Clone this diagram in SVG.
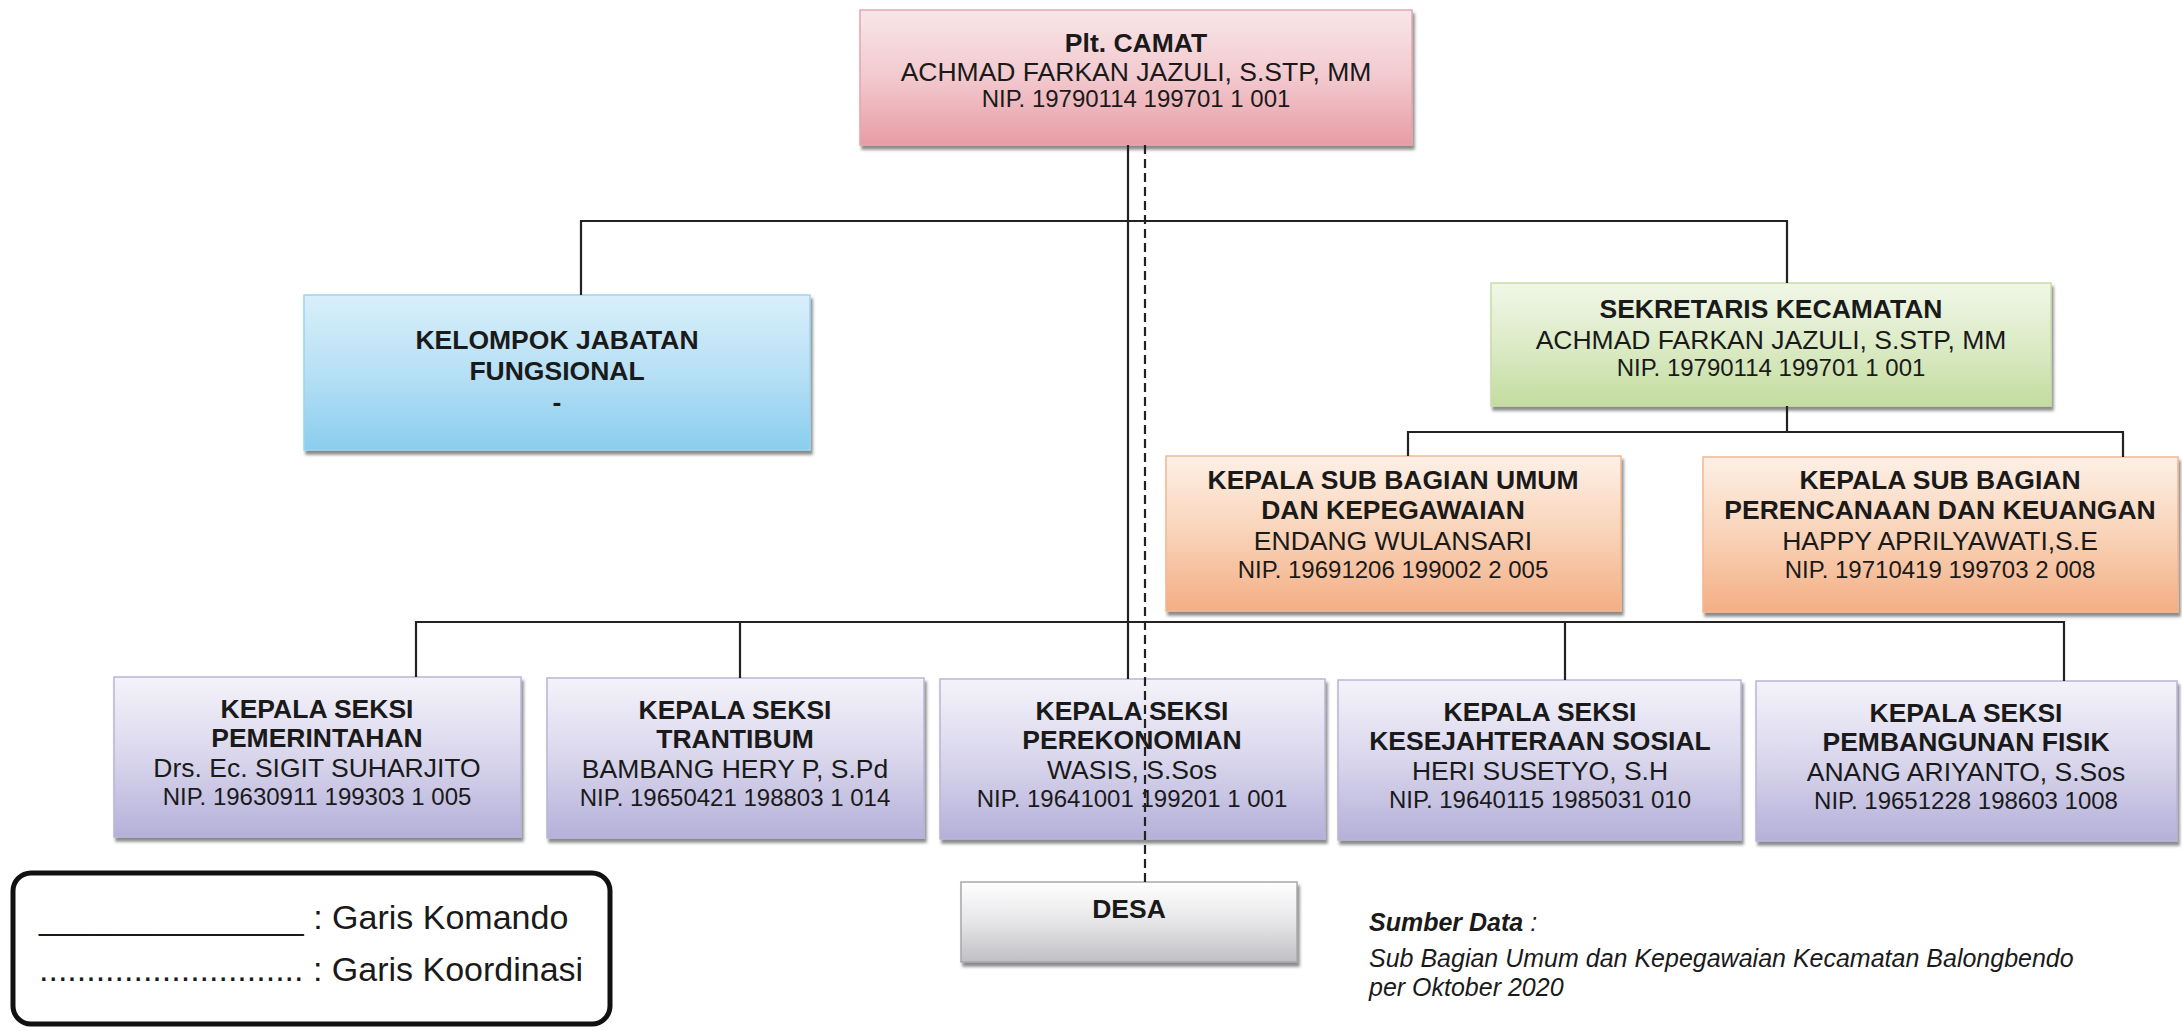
<svg xmlns="http://www.w3.org/2000/svg" width="2182" height="1031" viewBox="0 0 2182 1031">
<defs>
<style>
text{font-family:"Liberation Sans",Arial,sans-serif;fill:#1a1a1a;text-anchor:middle}
.b{font-weight:bold;font-size:26.5px}
.r{font-size:26.5px}
.n{font-size:24px}
.ln{stroke:#222;stroke-width:2.2;fill:none}
.dash{stroke:#222;stroke-width:2.2;fill:none;stroke-dasharray:9 5}
.lg{font-size:34px;text-anchor:start}
.src{font-size:25px;font-style:italic;text-anchor:start}
</style>
<linearGradient id="gRed" x1="0" y1="0" x2="0" y2="1"><stop offset="0" stop-color="#f8e6e8"/><stop offset="0.5" stop-color="#f2c9ce"/><stop offset="1" stop-color="#e89ca5"/></linearGradient>
<linearGradient id="gBlue" x1="0" y1="0" x2="0" y2="1"><stop offset="0" stop-color="#d9effa"/><stop offset="0.5" stop-color="#b7e0f5"/><stop offset="1" stop-color="#8acdee"/></linearGradient>
<linearGradient id="gGreen" x1="0" y1="0" x2="0" y2="1"><stop offset="0" stop-color="#f1f7e8"/><stop offset="0.5" stop-color="#dcebc6"/><stop offset="1" stop-color="#c3dca0"/></linearGradient>
<linearGradient id="gOrange" x1="0" y1="0" x2="0" y2="1"><stop offset="0" stop-color="#fdf0e6"/><stop offset="0.5" stop-color="#f9d3b8"/><stop offset="1" stop-color="#f3ae84"/></linearGradient>
<linearGradient id="gPurple" x1="0" y1="0" x2="0" y2="1"><stop offset="0" stop-color="#f4f3fa"/><stop offset="0.5" stop-color="#d9d6ec"/><stop offset="1" stop-color="#b5b0d9"/></linearGradient>
<linearGradient id="gGray" x1="0" y1="0" x2="0" y2="1"><stop offset="0" stop-color="#ffffff"/><stop offset="0.5" stop-color="#e6e6e8"/><stop offset="1" stop-color="#c0c0c4"/></linearGradient>
<filter id="sh" x="-5%" y="-10%" width="112%" height="130%"><feDropShadow dx="2" dy="4" stdDeviation="1.5" flood-color="#3a3a3a" flood-opacity="0.6"/></filter>
</defs>
<rect width="2182" height="1031" fill="#ffffff"/>

<g id="node-camat">
<rect x="860" y="10" width="552" height="135" fill="url(#gRed)" stroke="#e3a7ad" stroke-width="1.5" filter="url(#sh)"/>
<text x="1136" y="52" class="b">Plt. CAMAT</text>
<text x="1136" y="81" class="r">ACHMAD FARKAN JAZULI, S.STP, MM</text>
<text x="1136" y="107" class="n">NIP. 19790114 199701 1 001</text>
</g>

<g id="node-fungsional">
<rect x="304" y="295" width="506" height="155" fill="url(#gBlue)" stroke="#9dd3ee" stroke-width="1.5" filter="url(#sh)"/>
<text x="557" y="349" class="b">KELOMPOK JABATAN</text>
<text x="557" y="380" class="b">FUNGSIONAL</text>
<text x="557" y="411" class="b">-</text>
</g>

<g id="node-sekretaris">
<rect x="1491" y="283" width="560" height="123" fill="url(#gGreen)" stroke="#c7dda8" stroke-width="1.5" filter="url(#sh)"/>
<text x="1771" y="318" class="b">SEKRETARIS KECAMATAN</text>
<text x="1771" y="349" class="r">ACHMAD FARKAN JAZULI, S.STP, MM</text>
<text x="1771" y="376" class="n">NIP. 19790114 199701 1 001</text>
</g>

<g id="node-subbag-umum">
<rect x="1166" y="456" width="455" height="155" fill="url(#gOrange)" stroke="#f2b792" stroke-width="1.5" filter="url(#sh)"/>
<text x="1393" y="489" class="b">KEPALA SUB BAGIAN UMUM</text>
<text x="1393" y="519" class="b">DAN KEPEGAWAIAN</text>
<text x="1393" y="550" class="r">ENDANG WULANSARI</text>
<text x="1393" y="578" class="n">NIP. 19691206 199002 2 005</text>
</g>

<g id="node-subbag-keuangan">
<rect x="1703" y="457" width="475" height="155" fill="url(#gOrange)" stroke="#f2b792" stroke-width="1.5" filter="url(#sh)"/>
<text x="1940" y="489" class="b">KEPALA SUB BAGIAN</text>
<text x="1940" y="519" class="b">PERENCANAAN DAN KEUANGAN</text>
<text x="1940" y="550" class="r">HAPPY APRILYAWATI,S.E</text>
<text x="1940" y="578" class="n">NIP. 19710419 199703 2 008</text>
</g>

<g id="node-seksi-pemerintahan">
<rect x="114" y="677" width="407" height="160" fill="url(#gPurple)" stroke="#b9b5d8" stroke-width="1.5" filter="url(#sh)"/>
<text x="317" y="718" class="b">KEPALA SEKSI</text>
<text x="317" y="747" class="b">PEMERINTAHAN</text>
<text x="317" y="777" class="r">Drs. Ec. SIGIT SUHARJITO</text>
<text x="317" y="805" class="n">NIP. 19630911 199303 1 005</text>
</g>

<g id="node-seksi-trantibum">
<rect x="547" y="678" width="377" height="160" fill="url(#gPurple)" stroke="#b9b5d8" stroke-width="1.5" filter="url(#sh)"/>
<text x="735" y="719" class="b">KEPALA SEKSI</text>
<text x="735" y="748" class="b">TRANTIBUM</text>
<text x="735" y="778" class="r">BAMBANG HERY P, S.Pd</text>
<text x="735" y="806" class="n">NIP. 19650421 198803 1 014</text>
</g>

<g id="node-seksi-perekonomian">
<rect x="940" y="679" width="385" height="160" fill="url(#gPurple)" stroke="#b9b5d8" stroke-width="1.5" filter="url(#sh)"/>
<text x="1132" y="720" class="b">KEPALA SEKSI</text>
<text x="1132" y="749" class="b">PEREKONOMIAN</text>
<text x="1132" y="779" class="r">WASIS, S.Sos</text>
<text x="1132" y="807" class="n">NIP. 19641001 199201 1 001</text>
</g>

<g id="node-seksi-kesos">
<rect x="1338" y="680" width="403" height="160" fill="url(#gPurple)" stroke="#b9b5d8" stroke-width="1.5" filter="url(#sh)"/>
<text x="1540" y="721" class="b">KEPALA SEKSI</text>
<text x="1540" y="750" class="b">KESEJAHTERAAN SOSIAL</text>
<text x="1540" y="780" class="r">HERI SUSETYO, S.H</text>
<text x="1540" y="808" class="n">NIP. 19640115 1985031 010</text>
</g>

<g id="node-seksi-pembangunan">
<rect x="1756" y="681" width="421" height="160" fill="url(#gPurple)" stroke="#b9b5d8" stroke-width="1.5" filter="url(#sh)"/>
<text x="1966" y="722" class="b">KEPALA SEKSI</text>
<text x="1966" y="751" class="b">PEMBANGUNAN FISIK</text>
<text x="1966" y="781" class="r">ANANG ARIYANTO, S.Sos</text>
<text x="1966" y="809" class="n">NIP. 19651228 198603 1008</text>
</g>

<g id="node-desa">
<rect x="961" y="882" width="336" height="80" fill="url(#gGray)" stroke="#a8a8ac" stroke-width="1.5" filter="url(#sh)"/>
<text x="1129" y="918" class="b">DESA</text>
</g>

<g id="connectors">
<path class="ln" d="M1128 145 V679"/>
<path class="ln" d="M581 295 V221 H1787 V283"/>
<path class="ln" d="M1787 406 V432"/>
<path class="ln" d="M1408 456 V432 H2123 V457"/>
<path class="ln" d="M416 677 V622 H2064 V681"/>
<path class="ln" d="M740 622 V678"/>
<path class="ln" d="M1565 622 V680"/>
<path class="dash" d="M1145 145 V882"/>
</g>

<g id="legend">
<rect x="13" y="873" width="597" height="151" rx="18" fill="#ffffff" stroke="#111" stroke-width="5"/>
<text x="39" y="929" class="lg">______________ : Garis Komando</text>
<text x="39" y="981" class="lg">............................ : Garis Koordinasi</text>
</g>

<g id="source">
<text x="1369" y="931" class="src"><tspan font-weight="bold">Sumber Data</tspan> :</text>
<text x="1369" y="967" class="src">Sub Bagian Umum dan Kepegawaian Kecamatan Balongbendo</text>
<text x="1369" y="996" class="src">per Oktober 2020</text>
</g>
</svg>
